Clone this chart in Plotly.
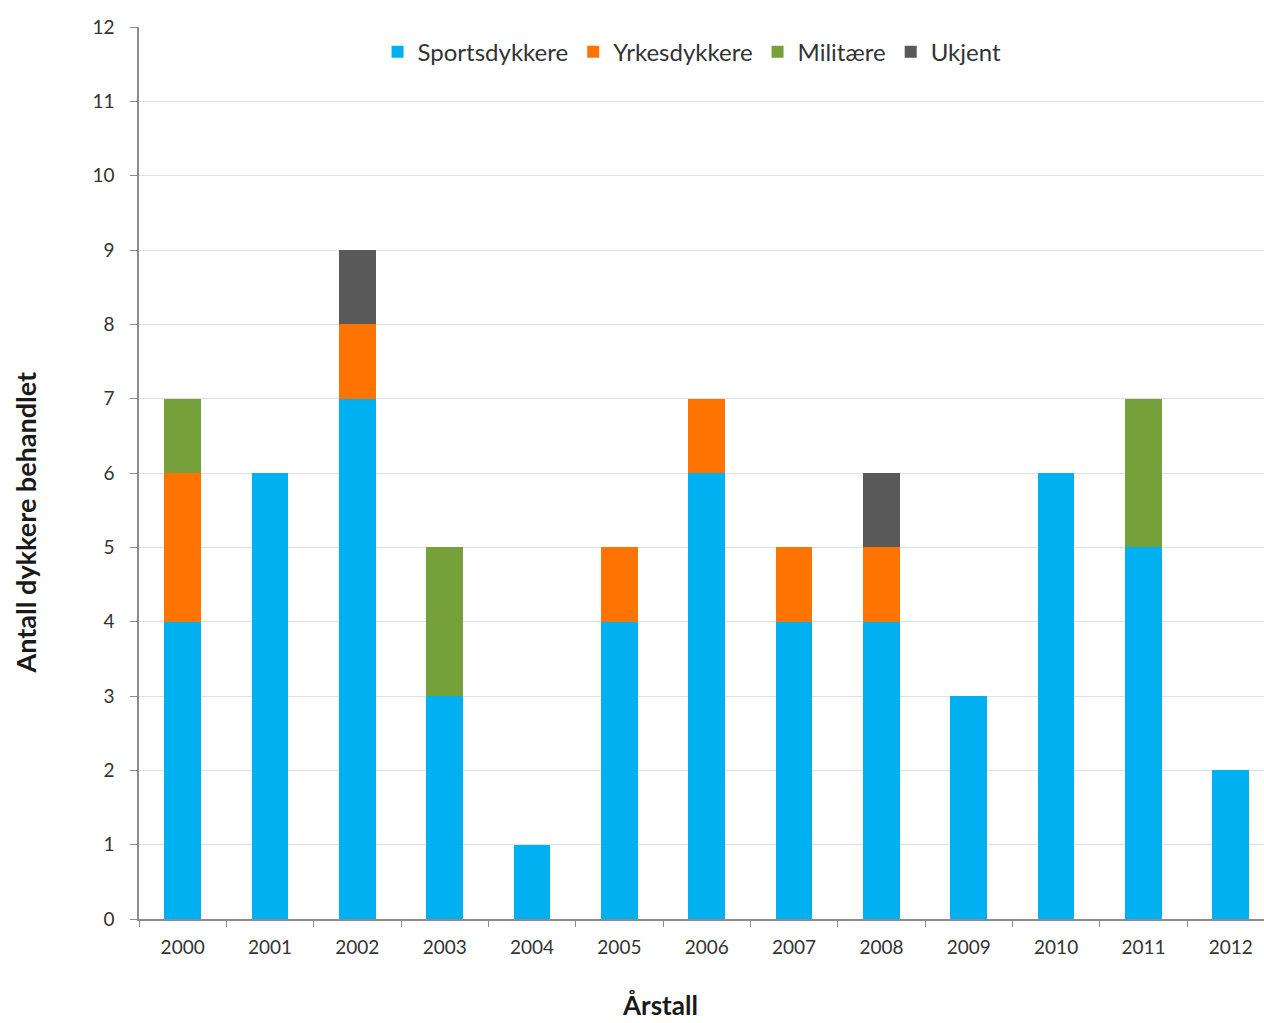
import plotly.graph_objects as go

years = ["2000", "2001", "2002", "2003", "2004", "2005", "2006",
         "2007", "2008", "2009", "2010", "2011", "2012"]
sportsdykkere = [4, 6, 7, 3, 1, 4, 6, 4, 4, 3, 6, 5, 2]
yrkesdykkere = [2, 0, 1, 0, 0, 1, 1, 1, 1, 0, 0, 0, 0]
militaere = [1, 0, 0, 2, 0, 0, 0, 0, 0, 0, 0, 2, 0]
ukjent = [0, 0, 1, 0, 0, 0, 0, 0, 1, 0, 0, 0, 0]

series = [
    ("Sportsdykkere", sportsdykkere, "#00B0F0"),
    ("Yrkesdykkere", yrkesdykkere, "#FF7400"),
    ("Militære", militaere, "#76A03A"),
    ("Ukjent", ukjent, "#595959"),
]

fig = go.Figure()
for name, vals, color in series:
    fig.add_trace(go.Bar(
        x=years, y=vals, name=name,
        marker=dict(color=color, line=dict(width=0)),
        width=0.42,
    ))

font_family = "Lato, 'Open Sans', sans-serif"

fig.update_layout(
    barmode="stack",
    width=1264, height=1023,
    margin=dict(l=139, r=0, t=27, b=104),
    paper_bgcolor="white", plot_bgcolor="white",
    font=dict(family=font_family, color="#333333", size=18),
    showlegend=True,
    legend=dict(
        orientation="h", x=0.4916, xanchor="center", y=0.997, yanchor="top",
        font=dict(size=24, color="#333333"),
        itemwidth=30, traceorder="normal",
        bgcolor="rgba(0,0,0,0)",
    ),
    xaxis=dict(
        type="category",
        range=[-0.5, 12.38],
        showline=True, linecolor="#8c8c8c", linewidth=1.5,
        ticks="outside", tickson="boundaries", ticklen=6, tickcolor="#8c8c8c",
        showgrid=False,
        tickfont=dict(size=19, color="#333333"),
        ticklabelstandoff=10,
    ),
    yaxis=dict(
        range=[0, 12], dtick=1,
        showline=True, linecolor="#8c8c8c", linewidth=1.5,
        ticks="outside", ticklen=7, tickcolor="#8c8c8c",
        showgrid=True, gridcolor="#d9e1ee", gridwidth=1,
        zeroline=False,
        tickfont=dict(size=19, color="#333333"),
        ticklabelstandoff=12,
    ),
    annotations=[
        dict(text="<b>Årstall</b>", xref="paper", yref="paper",
             x=0.463, y=-0.0965, xanchor="center", yanchor="middle",
             showarrow=False, font=dict(size=26, color="#1a1a1a")),
        dict(text="<b>Antall dykkere behandlet</b>", xref="paper", yref="paper",
             x=-0.101, y=0.445, xanchor="center", yanchor="middle",
             textangle=-90, showarrow=False, font=dict(size=27, color="#1a1a1a")),
    ],
)

fig.write_html("out.html")
